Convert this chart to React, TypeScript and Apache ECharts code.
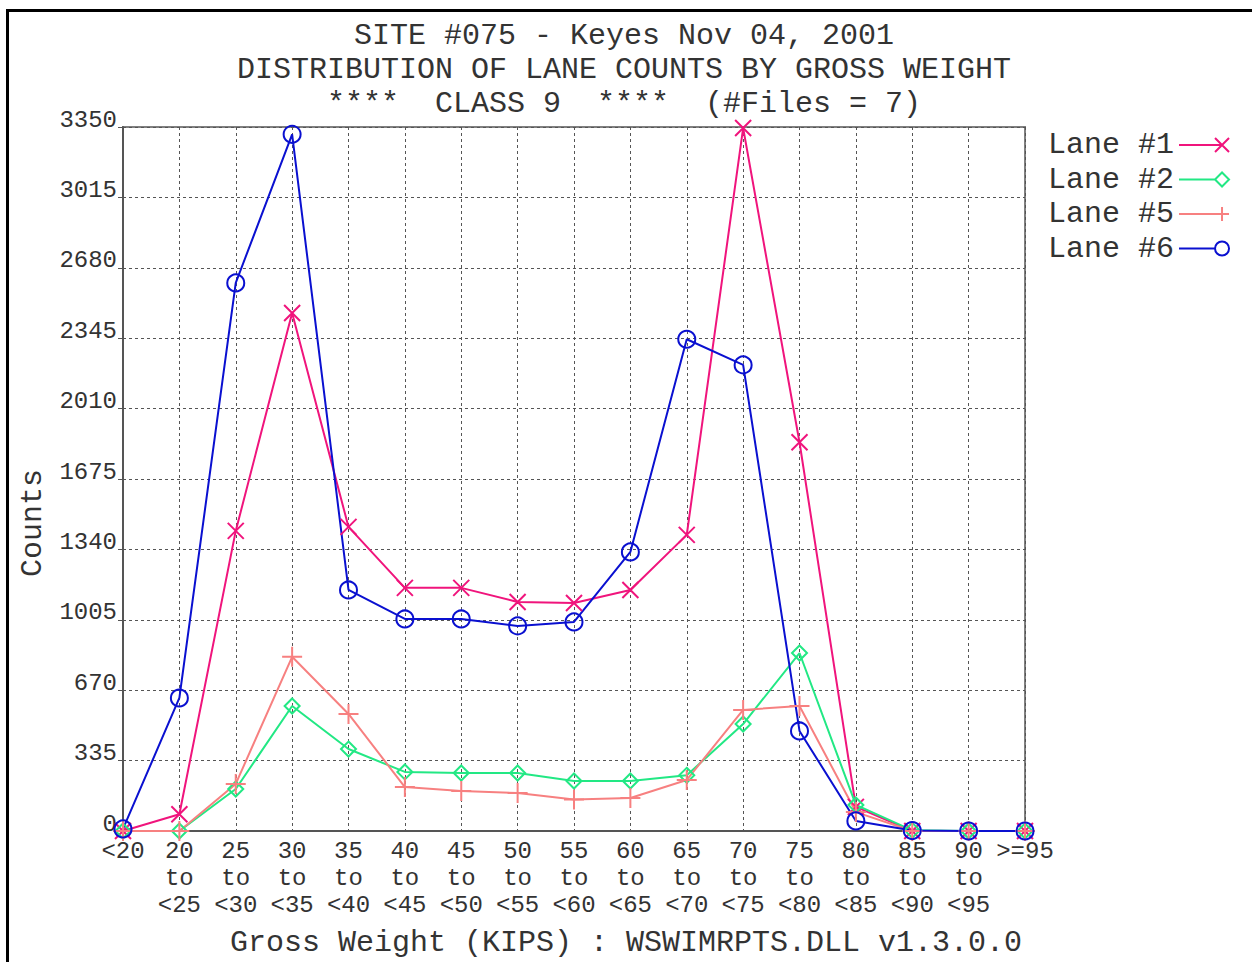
import React, { useEffect, useRef } from "react";
import * as echarts from "echarts";

const categories = [
  "<20", "20\nto\n<25", "25\nto\n<30", "30\nto\n<35", "35\nto\n<40", "40\nto\n<45",
  "45\nto\n<50", "50\nto\n<55", "55\nto\n<60", "60\nto\n<65", "65\nto\n<70",
  "70\nto\n<75", "75\nto\n<80", "80\nto\n<85", "85\nto\n<90", "90\nto\n<95", ">=95",
];

const lane1 = [0, 80, 1428, 2465, 1447, 1157, 1157, 1090, 1085, 1147, 1409, 3345, 1850, 115, 0, 0, 0];
const lane2 = [0, 0, 200, 595, 390, 281, 276, 276, 238, 238, 265, 509, 847, 124, 3, 0, 0];
const lane5 = [0, 0, 224, 829, 557, 209, 190, 181, 150, 157, 243, 576, 595, 90, 0, 0, 0];
const lane6 = [10, 633, 2608, 3315, 1147, 1009, 1009, 976, 995, 1328, 2340, 2218, 476, 48, 2, 0, 0];

const yTicks = { min: 0, max: 3350, interval: 335 };

const titleLines = [
  "SITE #075 - Keyes Nov 04, 2001",
  "DISTRIBUTION OF LANE COUNTS BY GROSS WEIGHT",
  "****  CLASS 9  ****  (#Files = 7)",
];
const xAxisTitle = "Gross Weight (KIPS) : WSWIMRPTS.DLL v1.3.0.0";
const yAxisTitle = "Counts";

const FONT = "'Liberation Mono', 'DejaVu Sans Mono', monospace";
const TEXT = "#333";

const seriesDefs = [
  {
    name: "Lane #1", data: lane1, color: "#f0147c",
    symbol: "path://M0,0 L10,10 M10,0 L0,10", size: 16,
    icon: "path://M0,7 L43,7 M36,0 L50,14 M50,0 L36,14",
  },
  {
    name: "Lane #2", data: lane2, color: "#22e884",
    symbol: "diamond", size: 15,
    icon: "path://M0,7 L36,7 L43,0 L50,7 L43,14 L36,7",
  },
  {
    name: "Lane #5", data: lane5, color: "#f78080",
    symbol: "path://M5,0 L5,10 M0,5 L10,5", size: 20,
    icon: "path://M0,7 L50,7 M43,0 L43,14",
  },
  {
    name: "Lane #6", data: lane6, color: "#0a10d0",
    symbol: "circle", size: 17,
    icon: "path://M0,7 L36,7 M36,7 A7,7 0 1 1 50,7 A7,7 0 1 1 36,7",
  },
];

export default function App() {
  const ref = useRef<HTMLDivElement>(null);
  useEffect(() => {
    if (!ref.current) return;
    const chart = echarts.init(ref.current, null, { renderer: "svg" });
    chart.setOption({
      animation: false,
      backgroundColor: "#fff",
      title: [
        ...titleLines.map((t, i) => ({
          text: t,
          left: 619,
          top: 15 + i * 34,
          textAlign: "center",
          textStyle: { fontFamily: FONT, fontSize: 30, fontWeight: "normal", color: TEXT, lineHeight: 32 },
        })),
        {
          text: xAxisTitle,
          left: 621,
          top: 922,
          textAlign: "center",
          textStyle: { fontFamily: FONT, fontSize: 30, fontWeight: "normal", color: TEXT, lineHeight: 32 },
        },
      ],
      graphic: [
        {
          type: "rect",
          shape: { x: 7.5, y: 10.5, width: 1400, height: 1100 },
          style: { fill: "none", stroke: "#000", lineWidth: 3 },
          silent: true,
          z: 100,
        },
        {
          type: "text",
          x: 33,
          y: 523,
          rotation: Math.PI / 2,
          style: {
            text: yAxisTitle,
            font: `30px ${FONT}`,
            fill: TEXT,
            align: "center",
            verticalAlign: "middle",
          },
        },
      ],
      legend: {
        orient: "vertical",
        left: 1043,
        top: 125,
        align: "right",
        itemWidth: 50,
        itemHeight: 14,
        itemGap: 4.5,
        textStyle: { fontFamily: FONT, fontSize: 30, color: TEXT, lineHeight: 30 },
        data: seriesDefs.map((s) => ({
          name: s.name,
          icon: s.icon,
          itemStyle: { color: "transparent", borderColor: s.color, borderWidth: 2 },
        })),
      },
      grid: {
        left: 123,
        top: 127,
        width: 902,
        height: 704,
        show: true,
        borderColor: "#808080",
        borderWidth: 2,
        backgroundColor: "transparent",
      },
      xAxis: {
        type: "category",
        data: categories,
        boundaryGap: false,
        axisLine: { lineStyle: { color: "#555", width: 2 } },
        axisTick: { show: false },
        axisLabel: {
          interval: 0,
          margin: 7,
          fontFamily: FONT,
          fontSize: 24,
          lineHeight: 27,
          color: TEXT,
        },
        splitLine: { show: true, interval: 0, lineStyle: { color: "#555", type: [3, 3], width: 1 } },
      },
      yAxis: {
        type: "value",
        min: yTicks.min,
        max: yTicks.max,
        interval: yTicks.interval,
        axisLine: { show: true, lineStyle: { color: "#555", width: 2 } },
        axisTick: { show: true, length: 5, lineStyle: { color: "#555" } },
        axisLabel: {
          margin: 6,
          fontFamily: FONT,
          fontSize: 24,
          color: TEXT,
          verticalAlign: "bottom",
          lineHeight: 14,
          formatter: (v: number) => String(v),
        },
        splitLine: { show: true, lineStyle: { color: "#555", type: [3, 3], width: 1 } },
      },
      series: seriesDefs.map((s) => ({
        name: s.name,
        type: "line",
        data: s.data,
        symbol: s.symbol,
        symbolSize: s.size,
        showSymbol: true,
        lineStyle: { color: s.color, width: 2 },
        itemStyle: { color: "transparent", borderColor: s.color, borderWidth: 2 },
        emphasis: { disabled: true },
      })),
    });
    return () => chart.dispose();
  }, []);
  return (
    <div
      ref={ref}
      style={{ position: "fixed", left: 0, top: 0, width: 1252, height: 962 }}
    />
  );
}
